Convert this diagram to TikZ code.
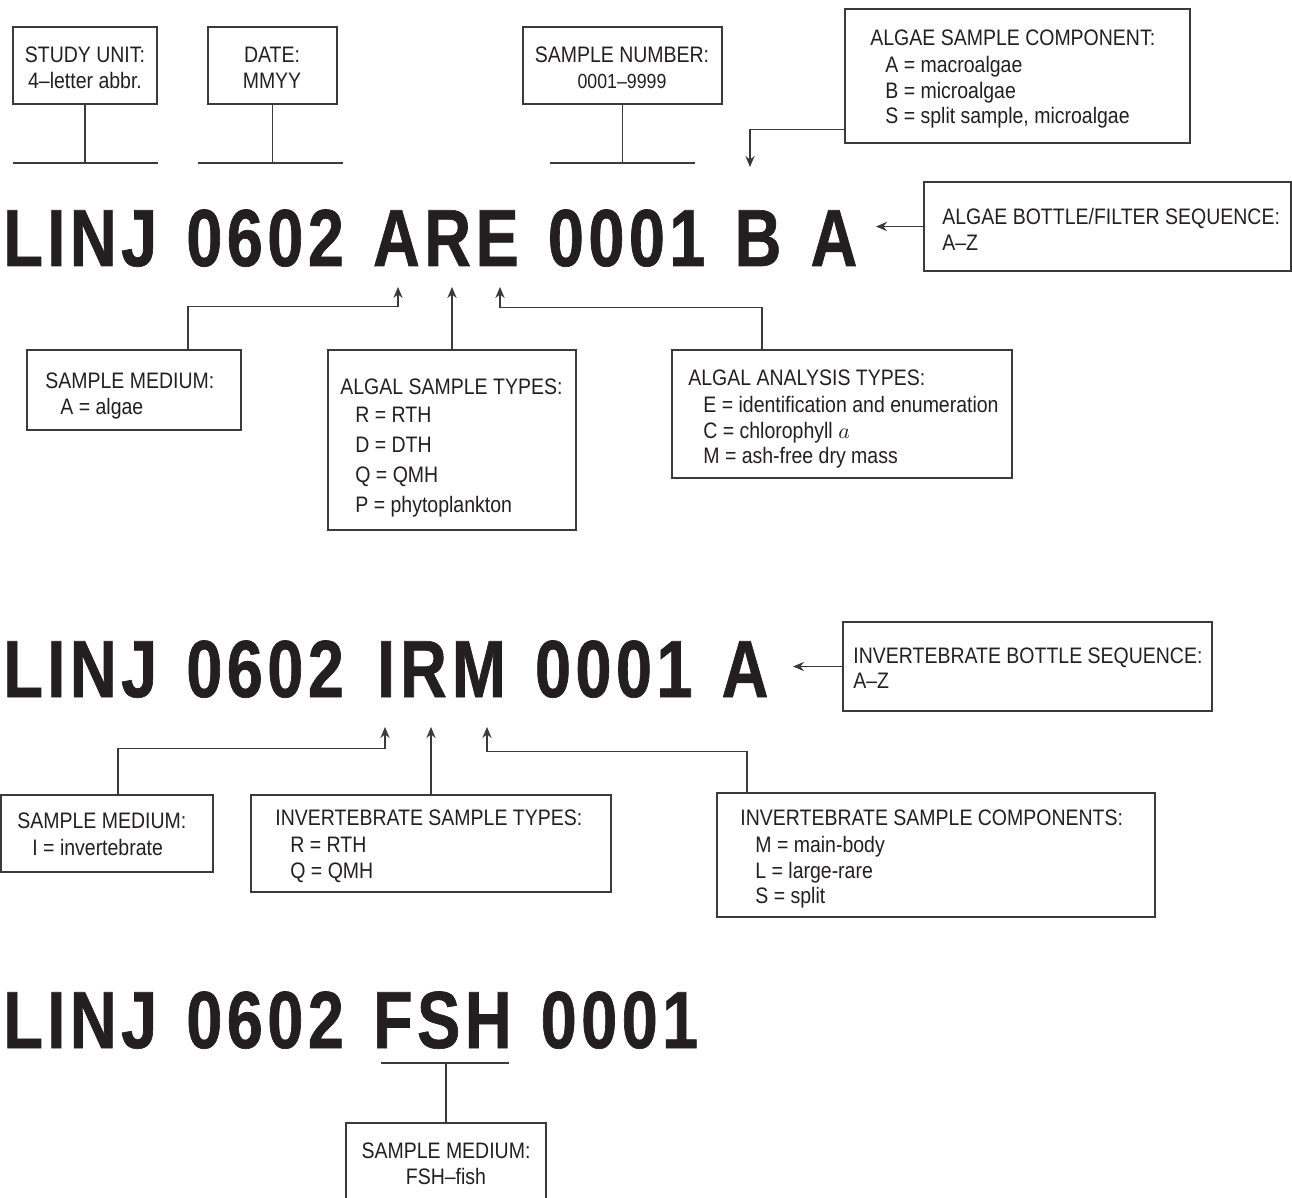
\documentclass[tikz,border=0pt]{standalone}
\usepackage{fontspec}
\newfontfamily\labelfont[FakeStretch=0.87]{Liberation Sans}
\newfontfamily\codefont[FakeStretch=0.8,LetterSpace=5.5,WordSpace=1.3,FakeBold=0.8]{Liberation Sans}
\usetikzlibrary{arrows.meta}
\usetikzlibrary{fit}
\definecolor{ink}{HTML}{231F20}
\definecolor{rule}{HTML}{3A3A3A}
\tikzset{
	box/.style={draw=rule, line width=0.7pt, inner sep=0pt},
	lbl/.style={font=\labelfont\fontsize{11.2}{12.8}\selectfont, text=ink, inner sep=0pt, align=left, anchor=north west},
	clbl/.style={lbl, align=center, anchor=center},
	code/.style={font=\codefont\bfseries\fontsize{40.5}{40}\selectfont, text=ink, inner sep=0pt, anchor=base west},
	conn/.style={draw=rule, line width=0.7pt},
	tip/.style={conn, -{Stealth[length=5.5pt,width=4.6pt]}}
}
\newcommand{\ind}{\hspace*{7.5pt}}
\begin{document}
\begin{tikzpicture}[x=0.5pt,y=-0.5pt]
	\clip (0,0) rectangle (1292,1198);
	
	% first code and its boxes
	\node[box, fit={(13,27)(157,104)}] (unit) {};
	\node[clbl] at (85,68) {STUDY UNIT:\\4–letter abbr.};
	\node[box, fit={(208,27)(337,104)}] (date) {};
	\node[clbl] at (272,68) {DATE:\\MMYY};
	\node[box, fit={(523,27)(722,104)}] (num) {};
	\node[clbl] at (622,68) {SAMPLE NUMBER:\\{\fontsize{10.2}{12}\selectfont 0001–9999}};
	\node[box, fit={(845,9)(1190,143)}] (comp) {};
	\node[lbl] at (870,29) {ALGAE SAMPLE COMPONENT:\\[1pt]
		\ind A = macroalgae\\ \ind B = microalgae\\ \ind S = split sample, microalgae};
	\node[box, fit={(924,182)(1291,271)}] (bot1) {};
	\node[lbl] at (942,208) {ALGAE BOTTLE/FILTER SEQUENCE:\\A–Z};
	
	\coordinate (unitL) at (13,163);  \coordinate (unitR) at (158,163);
	\coordinate (dateL) at (198,163); \coordinate (dateR) at (343,163);
	\coordinate (numL) at (550,163);  \coordinate (numR) at (695,163);
	\draw[conn] (unit.south) -- (unit.south |- unitL);
	\draw[conn] (unitL) -- (unitR);
	\draw[conn] (date.south) -- (date.south |- dateL);
	\draw[conn] (dateL) -- (dateR);
	\draw[conn] (num.south) -- (num.south |- numL);
	\draw[conn] (numL) -- (numR);
	\coordinate (compTip) at (750,167);
	\draw[tip] ([yshift=7pt]comp.south west) -| (compTip);
	\coordinate (bot1Tip) at (876,226);
	\draw[tip] (bot1.west) -- (bot1.west -| bot1Tip);
	
	\node[code] (ln1) at (3,266) {LINJ 0602 ARE 0001 B A};
	
	\node[box, fit={(27,350)(241,430)}] (medA) {};
	\node[lbl] at (45,372) {SAMPLE MEDIUM:\\[0.5pt] \ind A = algae};
	\node[box, fit={(328,350)(576,530)}] (stypes) {};
	\node[lbl, font=\labelfont\fontsize{11.2}{15}\selectfont] at (340,378) {ALGAL SAMPLE TYPES:\\[-1pt]
		\ind R = RTH\\ \ind D = DTH\\ \ind Q = QMH\\ \ind P = phytoplankton};
	\node[box, fit={(672,350)(1012,478)}] (atypes) {};
	\node[lbl] at (688,369) {ALGAL ANALYSIS TYPES:\\[1pt]
		\ind E = identification and enumeration\\ \ind C = chlorophyll $a$\\ \ind M = ash-free dry mass};
	
	\coordinate (tipA) at (398,287);
	\coordinate (tipR) at (452,287);
	\coordinate (tipE) at (500,287);
	\draw[tip] ([xshift=27pt]medA.north) -- ++(0,-43) -| (tipA);
	\draw[tip] (stypes.north) -- (tipR);
	\draw[tip] ([xshift=-40pt]atypes.north) -- ++(0,-42) -| (tipE);
	
	% second code
	\node[code] (ln2) at (3,697) {LINJ 0602 \kern2ptI\kern2.5ptR\kern2.5ptM 0001 A};
	\node[box, fit={(843,622)(1212,711)}] (bot2) {};
	\node[lbl] at (853,647) {INVERTEBRATE BOTTLE SEQUENCE:\\A–Z};
	\coordinate (bot2Tip) at (793,664);
	\draw[tip] (bot2.west) -- (bot2.west -| bot2Tip);
	
	\node[box, fit={(1,795)(213,872)}] (medI) {};
	\node[lbl] at (17,812) {SAMPLE MEDIUM:\\[1pt] \ind I = invertebrate};
	\node[box, fit={(251,795)(611,892)}] (itypes) {};
	\node[lbl] at (275,809) {INVERTEBRATE SAMPLE TYPES:\\[1pt]
		\ind R = RTH\\ \ind Q = QMH};
	\node[box, fit={(717,793)(1155,917)}] (icomp) {};
	\node[lbl] at (740,809) {INVERTEBRATE SAMPLE COMPONENTS:\\[1pt]
		\ind M = main-body\\ \ind L = large-rare\\ \ind S = split};
	
	\coordinate (tipI) at (385,727);
	\coordinate (tipRi) at (431,727);
	\coordinate (tipM) at (487,727);
	\draw[tip] ([xshift=5.5pt]medI.north) -- ++(0,-46) -| (tipI);
	\draw[tip] (itypes.north) -- (tipRi);
	\draw[tip] ([xshift=-94.5pt]icomp.north) -- ++(0,-41) -| (tipM);
	
	% third code
	\node[code] (ln3) at (3,1048) {LINJ 0602 FSH 0001};
	\coordinate (fishL) at (381,1063); \coordinate (fishR) at (509,1063);
	\node[box, fit={(346,1123)(546,1230)}] (fish) {};
	\node[clbl] at (446,1164) {SAMPLE MEDIUM:\\FSH–fish};
	\draw[conn] (fishL) -- (fishR);
	\draw[conn] (fish.north) -- (fish.north |- fishL);
\end{tikzpicture}
\end{document}
